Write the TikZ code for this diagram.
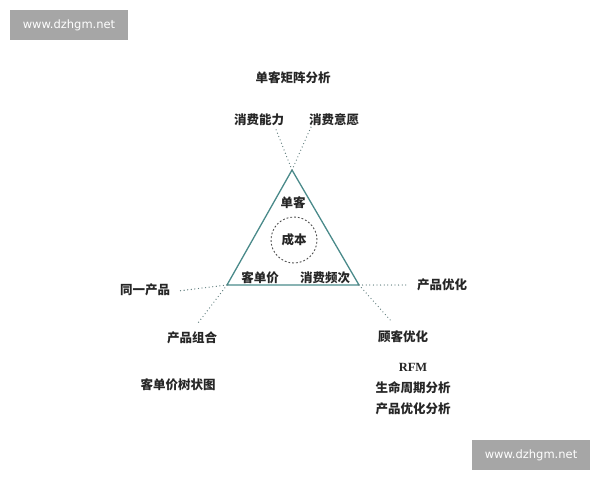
\documentclass[tikz,border=0pt]{standalone}
\usepackage{fontspec}
\setmainfont{Liberation Serif}
\newfontfamily\cjk{Noto Sans CJK SC}
\newfontfamily\wmfont{DejaVu Sans}
\definecolor{tealline}{RGB}{74,138,138}
\definecolor{dotline}{RGB}{95,125,125}
\definecolor{markgray}{RGB}{166,166,166}
\begin{document}
\begin{tikzpicture}[x=1pt,y=-1pt,every node/.style={font=\cjk\bfseries\fontsize{12.5}{21}\selectfont,text=black!85,inner sep=1pt},
    guide/.style={dotline,line width=1.3pt,line cap=round,dash pattern=on 0pt off 3.6pt},
    wmbox/.style={fill=markgray,text=white,minimum width=118pt,minimum height=30pt,font=\wmfont\fontsize{11.5}{12}\selectfont}]
    \useasboundingbox (0,0) rectangle (600,480);
    \node [wmbox] (wmtop) at (69,25) {www.dzhgm.net};
    \node [wmbox] (wmbottom) at (531,455) {www.dzhgm.net};
    \coordinate (apex) at (292,170);
    \coordinate (left) at (227,285);
    \coordinate (right) at (359,285);
    \draw [tealline,line width=1.3pt,line join=round] (apex) -- (left) -- (right) -- cycle;
    \node [circle,draw=black!70,line width=0.9pt,dash pattern=on 1.8pt off 2pt,minimum size=46pt] (cost) at (294,240) {成本};
    \node (single) at (293,203) {单客};
    \node (price) at (260,278) {客单价};
    \node (freq) at (325,278) {消费频次};
    \node (title) at (293,78) {单客矩阵分析};
    \node (ability) at (259,120) {消费能力};
    \node (will) at (334,120) {消费意愿};
    \node (same) at (145,290) {同一产品};
    \node (combo) at (192,338) {产品组合};
    \node (prodopt) at (442,285) {产品优化};
    \node (custopt) at (403,337) {顾客优化};
    \node (tree) at (178,385) {客单价树状图};
    \node [align=center] (methods) at (413,389) {\rmfamily\bfseries RFM\\生命周期分析\\产品优化分析};
    \coordinate (abilityend) at (275,127);
    \coordinate (willend) at (311,127);
    \coordinate (sameend) at (178,291);
    \coordinate (comboend) at (198,323);
    \coordinate (prodoptend) at (408,285);
    \coordinate (custoptend) at (392,322);
    \draw [guide] (apex) -- (abilityend);
    \draw [guide] (apex) -- (willend);
    \draw [guide] (left) -- (sameend);
    \draw [guide] (left) -- (comboend);
    \draw [guide] (right) -- (prodoptend);
    \draw [guide] (right) -- (custoptend);
\end{tikzpicture}
\end{document}
